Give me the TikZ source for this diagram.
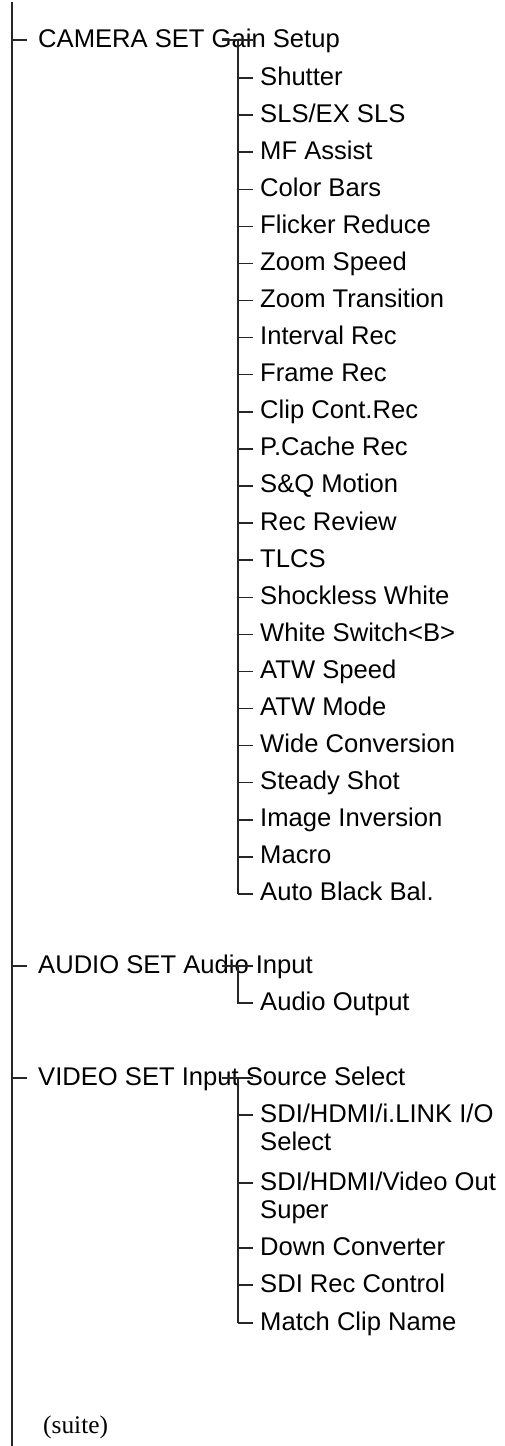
\documentclass[tikz,border=0pt]{standalone}
\usepackage{fontspec}
\setmainfont{Liberation Sans}
\newfontfamily\serifx{Liberation Serif}
\begin{document}
\begin{tikzpicture}[x=1pt,y=-1pt]
\tikzset{
  lbl/.style={anchor=base west, inner sep=0pt, font=\fontsize{25.6}{28}\selectfont},
  trunk/.style={line width=2pt, draw=black!85},
  branch/.style={line width=1.5pt, draw=black!85},
}
\useasboundingbox (0,0) rectangle (504,1446);
% main trunk
\coordinate (top) at (12,2);
\coordinate (bot) at (12,1446);
\draw[trunk] (top) -- (bot);

% ---------- CAMERA SET ----------
\node[lbl] (cam) at (38,47) {CAMERA SET Gain Setup};
\coordinate (camT) at (12,40);
\coordinate (camE) at (27,40);
\draw[branch] (camT) -- (camE);
\coordinate (camA) at (222,40);
\coordinate (camB) at (253,40);
\coordinate (camV) at (238,40);
\draw[branch] (camA) -- (camB);
\foreach \t [count=\i] in {Shutter,SLS/EX SLS,MF Assist,Color Bars,Flicker Reduce,Zoom Speed,Zoom Transition,Interval Rec,Frame Rec,Clip Cont.Rec,P.Cache Rec,S\&Q Motion,Rec Review,TLCS,Shockless White,White Switch<B>,ATW Speed,ATW Mode,Wide Conversion,Steady Shot,Image Inversion,Macro,Auto Black Bal.}{
  \pgfmathsetmacro{\yy}{78+37.09*(\i-1)}
  \node[lbl] (c\i) at (260,\yy+7) {\t};
  \coordinate (cs\i) at (238,\yy);
  \coordinate (ce\i) at (253,\yy);
  \draw[branch] (cs\i) -- (ce\i);
}
\draw[branch] (camV) -- (cs23);

% ---------- AUDIO SET ----------
\node[lbl] (aud) at (38,973) {AUDIO SET Audio Input};
\coordinate (audT) at (12,966);
\coordinate (audE) at (27,966);
\draw[branch] (audT) -- (audE);
\coordinate (audA) at (222,966);
\coordinate (audB) at (253,966);
\coordinate (audV) at (238,966);
\draw[branch] (audA) -- (audB);
\node[lbl] (a1) at (260,1010) {Audio Output};
\coordinate (as1) at (238,1003);
\coordinate (ae1) at (253,1003);
\draw[branch] (audV) -- (as1) -- (ae1);

% ---------- VIDEO SET ----------
\node[lbl] (vid) at (38,1085) {VIDEO SET Input Source Select};
\coordinate (vidT) at (12,1078);
\coordinate (vidE) at (27,1078);
\draw[branch] (vidT) -- (vidE);
\coordinate (vidA) at (222,1078);
\coordinate (vidB) at (253,1078);
\coordinate (vidV) at (238,1078);
\draw[branch] (vidA) -- (vidB);

\node[lbl] (v1) at (260,1122) {SDI/HDMI/i.LINK I/O};
\node[lbl] (v1b) at (260,1150) {Select};
\node[lbl] (v2) at (260,1190) {SDI/HDMI/Video Out};
\node[lbl] (v2b) at (260,1218) {Super};
\node[lbl] (v3) at (260,1255) {Down Converter};
\node[lbl] (v4) at (260,1292) {SDI Rec Control};
\node[lbl] (v5) at (260,1330) {Match Clip Name};
\foreach \n/\yy in {1/1115,2/1183,3/1248,4/1285,5/1323}{
  \coordinate (vs\n) at (238,\yy);
  \coordinate (ve\n) at (253,\yy);
  \draw[branch] (vs\n) -- (ve\n);
}
\draw[branch] (vidV) -- (vs5);

% ---------- suite ----------
\node[anchor=base west, inner sep=0pt, font=\serifx\fontsize{25.4}{28}\selectfont] (suite) at (43,1433) {(suite)};
\end{tikzpicture}
\end{document}
